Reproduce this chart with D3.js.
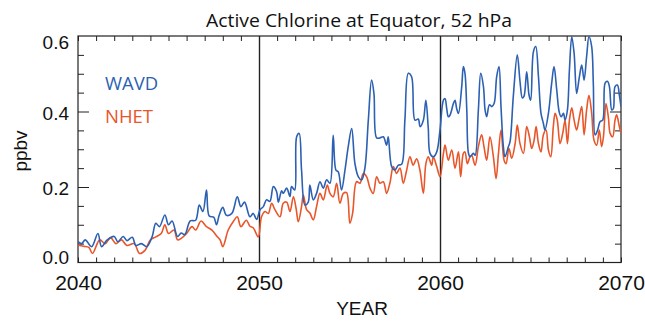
<!DOCTYPE html>
<html>
<head>
<meta charset="utf-8">
<script src="https://cdn.jsdelivr.net/npm/d3@7"></script>
<style>
  body { margin: 0; background: #fff; }
  svg { display: block; }
</style>
</head>
<body>
<div class="container"></div>
<script>
// Data: [year, ppbv]
const wavd = [
  [2040.0,0.055],[2040.2,0.05],[2040.4,0.06],[2040.75,0.042],[2041.1,0.077],[2041.3,0.042],
  [2041.6,0.059],[2042.0,0.069],[2042.2,0.055],[2042.5,0.069],[2042.7,0.058],[2043.0,0.067],
  [2043.2,0.045],[2043.5,0.05],[2043.8,0.042],[2044.1,0.069],[2044.3,0.104],[2044.5,0.095],
  [2044.8,0.126],[2045.0,0.1],[2045.2,0.11],[2045.5,0.069],[2045.7,0.078],[2045.9,0.074],
  [2046.2,0.11],[2046.5,0.112],[2046.7,0.152],[2046.9,0.135],[2047.1,0.192],[2047.25,0.123],
  [2047.5,0.12],[2047.65,0.1],[2047.8,0.125],[2048.0,0.146],[2048.2,0.125],[2048.5,0.13],
  [2048.8,0.174],[2049.0,0.148],[2049.2,0.16],[2049.5,0.121],[2049.68,0.13],[2049.87,0.114],
  [2050.05,0.139],[2050.24,0.148],[2050.42,0.166],[2050.6,0.162],[2050.79,0.201],[2050.97,0.188],
  [2051.07,0.16],[2051.25,0.19],[2051.34,0.183],[2051.53,0.197],[2051.71,0.175],[2051.8,0.201],
  [2051.97,0.192],[2052.08,0.333],[2052.22,0.342],[2052.35,0.245],[2052.54,0.152],[2052.72,0.16],
  [2052.81,0.205],[2053.0,0.166],[2053.18,0.183],[2053.37,0.214],[2053.55,0.197],[2053.74,0.219],
  [2053.92,0.21],[2054.1,0.337],[2054.25,0.245],[2054.38,0.24],[2054.56,0.192],[2054.75,0.245],
  [2054.93,0.307],[2055.12,0.355],[2055.3,0.262],[2055.49,0.227],[2055.67,0.219],[2055.85,0.25],
  [2056.04,0.377],[2056.22,0.483],[2056.35,0.448],[2056.5,0.33],[2056.68,0.33],[2056.87,0.333],
  [2057.05,0.311],[2057.14,0.333],[2057.33,0.254],[2057.51,0.245],[2057.7,0.258],[2057.88,0.26],
  [2058.06,0.377],[2058.25,0.501],[2058.43,0.492],[2058.62,0.377],[2058.8,0.38],[2058.9,0.36],
  [2059.08,0.377],[2059.22,0.43],[2059.35,0.357],[2059.45,0.289],[2059.63,0.28],[2059.82,0.293],
  [2060.0,0.351],[2060.19,0.43],[2060.28,0.434],[2060.37,0.408],[2060.46,0.386],[2060.55,0.39],
  [2060.74,0.421],[2060.83,0.43],[2060.92,0.408],[2061.02,0.395],[2061.2,0.466],[2061.29,0.519],
  [2061.38,0.501],[2061.48,0.404],[2061.57,0.29],[2061.66,0.28],[2061.84,0.289],[2061.94,0.284],
  [2062.12,0.404],[2062.25,0.501],[2062.4,0.466],[2062.49,0.404],[2062.58,0.386],[2062.73,0.418],
  [2062.86,0.413],[2062.99,0.421],[2063.13,0.492],[2063.26,0.519],[2063.37,0.413],[2063.5,0.307],
  [2063.59,0.28],[2063.78,0.307],[2063.87,0.32],[2064.05,0.44],[2064.27,0.55],[2064.42,0.48],
  [2064.55,0.436],[2064.64,0.44],[2064.79,0.505],[2064.92,0.443],[2065.01,0.43],[2065.16,0.558],
  [2065.29,0.572],[2065.44,0.492],[2065.58,0.395],[2065.71,0.369],[2065.8,0.351],[2065.99,0.395],
  [2066.17,0.475],[2066.3,0.519],[2066.45,0.457],[2066.58,0.4],[2066.69,0.386],[2066.82,0.395],
  [2066.91,0.377],[2067.04,0.404],[2067.15,0.51],[2067.28,0.598],[2067.41,0.554],[2067.55,0.448],
  [2067.7,0.492],[2067.83,0.523],[2067.96,0.483],[2068.1,0.545],[2068.23,0.598],[2068.38,0.572],
  [2068.47,0.475],[2068.57,0.338],[2068.71,0.351],[2068.84,0.373],[2068.99,0.377],[2069.12,0.475],
  [2069.25,0.48],[2069.36,0.466],[2069.49,0.404],[2069.58,0.408],[2069.67,0.466],[2069.8,0.47],
  [2069.91,0.443],[2070.0,0.413]
];

const nhet = [
  [2040.0,0.046],[2040.3,0.043],[2040.6,0.04],[2040.8,0.024],[2041.2,0.06],[2041.5,0.05],
  [2041.8,0.066],[2042.1,0.05],[2042.4,0.06],[2042.7,0.045],[2043.1,0.05],[2043.4,0.024],
  [2043.7,0.032],[2044.0,0.06],[2044.3,0.068],[2044.6,0.077],[2044.8,0.1],[2045.0,0.077],
  [2045.3,0.086],[2045.5,0.06],[2045.7,0.064],[2046.0,0.077],[2046.3,0.095],[2046.5,0.086],
  [2046.8,0.11],[2047.1,0.095],[2047.4,0.086],[2047.7,0.068],[2047.85,0.06],[2048.0,0.042],
  [2048.3,0.086],[2048.6,0.11],[2048.8,0.121],[2049.0,0.095],[2049.3,0.112],[2049.5,0.096],
  [2049.68,0.092],[2049.96,0.068],[2050.14,0.121],[2050.33,0.135],[2050.51,0.13],[2050.7,0.157],
  [2050.88,0.14],[2051.16,0.121],[2051.34,0.157],[2051.53,0.16],[2051.71,0.135],[2051.9,0.174],
  [2052.05,0.143],[2052.17,0.108],[2052.35,0.148],[2052.45,0.179],[2052.63,0.14],[2052.81,0.131],
  [2053.0,0.113],[2053.18,0.148],[2053.37,0.183],[2053.55,0.166],[2053.77,0.205],[2053.92,0.183],
  [2054.1,0.174],[2054.29,0.21],[2054.47,0.157],[2054.66,0.183],[2054.84,0.185],[2055.02,0.104],
  [2055.17,0.13],[2055.39,0.214],[2055.58,0.21],[2055.76,0.236],[2055.95,0.227],[2056.13,0.197],
  [2056.31,0.183],[2056.5,0.227],[2056.68,0.21],[2056.87,0.214],[2057.05,0.183],[2057.23,0.21],
  [2057.42,0.254],[2057.6,0.236],[2057.79,0.25],[2057.97,0.21],[2058.16,0.245],[2058.34,0.28],
  [2058.52,0.258],[2058.71,0.275],[2058.89,0.245],[2059.08,0.183],[2059.22,0.262],[2059.35,0.28],
  [2059.54,0.258],[2059.63,0.28],[2059.82,0.254],[2060.0,0.227],[2060.19,0.289],[2060.28,0.311],
  [2060.46,0.271],[2060.65,0.298],[2060.83,0.25],[2061.02,0.293],[2061.14,0.227],[2061.29,0.289],
  [2061.38,0.293],[2061.51,0.262],[2061.66,0.28],[2061.75,0.284],[2061.94,0.258],[2062.12,0.307],
  [2062.3,0.338],[2062.43,0.307],[2062.58,0.271],[2062.76,0.333],[2062.95,0.28],[2063.1,0.222],
  [2063.23,0.289],[2063.37,0.351],[2063.54,0.271],[2063.65,0.262],[2063.81,0.302],[2063.96,0.276],
  [2064.15,0.315],[2064.27,0.364],[2064.42,0.315],[2064.61,0.289],[2064.79,0.36],[2064.94,0.333],
  [2065.07,0.302],[2065.2,0.324],[2065.31,0.36],[2065.44,0.315],[2065.58,0.293],[2065.71,0.338],
  [2065.86,0.351],[2065.99,0.298],[2066.12,0.28],[2066.26,0.36],[2066.36,0.395],[2066.48,0.377],
  [2066.63,0.315],[2066.78,0.342],[2066.91,0.377],[2067.04,0.315],[2067.15,0.377],[2067.28,0.41],
  [2067.41,0.377],[2067.55,0.351],[2067.68,0.38],[2067.83,0.413],[2067.96,0.338],[2068.1,0.404],
  [2068.23,0.443],[2068.38,0.395],[2068.51,0.324],[2068.66,0.311],[2068.8,0.351],[2068.93,0.307],
  [2069.03,0.333],[2069.17,0.421],[2069.3,0.386],[2069.4,0.342],[2069.54,0.333],[2069.67,0.377],
  [2069.76,0.391],[2069.91,0.36],[2070.0,0.342]
];

const yearLabels = [2040, 2050, 2060, 2070];
const yearLines = [2050, 2060];
const valueLabels = [0.0, 0.2, 0.4, 0.6];
const seriesNames = ["WAVD", "NHET"];

const width = 645;
const height = 322;
const marginTop = 36;
const marginRight = 24;
const marginBottom = 59.5;
const marginLeft = 78;
const blue = "#2c60b2";
const orange = "#e8562a";
const ink = "#222";

const x = d3.scaleLinear()
  .domain([2040, 2070])
  .range([marginLeft, width - marginRight]);

const y = d3.scaleLinear()
  .domain([0, 0.6])
  .range([height - marginBottom, marginTop]);

const plotH = height - marginBottom - marginTop;
const plotW = width - marginLeft - marginRight;

const svg = d3.select(".container")
  .append("svg")
  .attr("width", width)
  .attr("height", height);

svg.append("defs").append("clipPath").attr("id", "plot")
  .append("rect")
  .attr("x", marginLeft).attr("y", marginTop)
  .attr("width", plotW).attr("height", plotH);

// minor ticks, every year on top and bottom (inward)
const years = d3.range(2040, 2071);
svg.append("g")
  .attr("transform", `translate(0,${height - marginBottom})`)
  .call(d3.axisBottom(x).tickValues(years).tickSize(-5).tickFormat(""))
  .call(g => g.select(".domain").remove());
svg.append("g")
  .attr("transform", `translate(0,${marginTop})`)
  .call(d3.axisTop(x).tickValues(years).tickSize(-5).tickFormat(""))
  .call(g => g.select(".domain").remove());

// full-height year lines
svg.append("g")
  .attr("transform", `translate(0,${height - marginBottom})`)
  .call(d3.axisBottom(x).tickValues(yearLines).tickSize(-plotH).tickFormat(""))
  .call(g => g.select(".domain").remove())
  .selectAll("line").attr("stroke-width", 1.4);

// y ticks: minor every 0.05, major every 0.2, both sides
const minorVals = d3.range(1, 12).map(i => +(i * 0.05).toFixed(2)).filter(v => Math.abs(v * 5 - Math.round(v * 5)) > 1e-6);
const majorVals = [0.2, 0.4];
[[d3.axisLeft, marginLeft], [d3.axisRight, width - marginRight]].forEach(([ax, pos]) => {
  svg.append("g")
    .attr("transform", `translate(${pos},0)`)
    .call(ax(y).tickValues(minorVals).tickSize(-6).tickFormat(""))
    .call(g => g.select(".domain").remove());
  svg.append("g")
    .attr("transform", `translate(${pos},0)`)
    .call(ax(y).tickValues(majorVals).tickSize(-11).tickFormat(""))
    .call(g => g.select(".domain").remove());
});

// frame
svg.append("rect")
  .attr("x", marginLeft).attr("y", marginTop)
  .attr("width", plotW).attr("height", plotH)
  .attr("fill", "none").attr("stroke", ink).attr("stroke-width", 1.2);

svg.selectAll(".tick line").attr("stroke", ink);

// tick labels
svg.append("g")
  .attr("transform", `translate(0,${height - marginBottom})`)
  .call(d3.axisBottom(x).tickValues(yearLabels).tickSize(0).tickPadding(13).tickFormat(d3.format("d")))
  .call(g => g.select(".domain").remove())
  .selectAll("text")
  .attr("font-family", "Liberation Sans, Arial, sans-serif")
  .attr("font-size", 21)
  .attr("fill", "#111");

svg.append("g")
  .attr("transform", `translate(${marginLeft},0)`)
  .call(d3.axisLeft(y).tickValues(valueLabels).tickSize(0).tickPadding(9).tickFormat(d3.format(".1f")))
  .call(g => g.select(".domain").remove())
  .selectAll("text")
  .attr("font-family", "Liberation Sans, Arial, sans-serif")
  .attr("font-size", 19)
  .attr("fill", "#111")
  .attr("y", d => d === 0.6 ? 6.5 : d === 0 ? -5 : 1.5);

// lines
const line = d3.line()
  .x(d => x(d[0]))
  .y(d => y(d[1]))
  .curve(d3.curveCatmullRom.alpha(0.5));

const plot = svg.append("g").attr("clip-path", "url(#plot)");
plot.append("path")
  .datum(nhet)
  .attr("fill", "none")
  .attr("stroke", orange)
  .attr("stroke-width", 1.6)
  .attr("stroke-linejoin", "round")
  .attr("d", line);
plot.append("path")
  .datum(wavd)
  .attr("fill", "none")
  .attr("stroke", blue)
  .attr("stroke-width", 1.6)
  .attr("stroke-linejoin", "round")
  .attr("d", line);

// title and axis titles
svg.append("text")
  .attr("x", 359).attr("y", 27)
  .attr("text-anchor", "middle")
  .attr("font-family", "Open Sans, sans-serif")
  .attr("font-size", 19)
  .attr("textLength", 306)
  .attr("lengthAdjust", "spacingAndGlyphs")
  .attr("fill", "#111")
  .text("Active Chlorine at Equator, 52 hPa");

svg.append("text")
  .attr("x", 362).attr("y", 315)
  .attr("text-anchor", "middle")
  .attr("font-family", "Liberation Sans, Arial, sans-serif")
  .attr("font-size", 19)
  .attr("fill", "#111")
  .text("YEAR");

svg.append("text")
  .attr("transform", "translate(27,151) rotate(-90)")
  .attr("text-anchor", "middle")
  .attr("font-family", "Liberation Sans, Arial, sans-serif")
  .attr("font-size", 19)
  .attr("fill", "#111")
  .text("ppbv");

// legend
const legendColors = [blue, orange];
svg.append("g")
  .selectAll("text")
  .data(seriesNames)
  .join("text")
  .attr("x", 105)
  .attr("y", (d, i) => 90 + i * 33.3)
  .attr("font-family", "Open Sans, sans-serif")
  .attr("font-size", 19)
  .attr("textLength", (d, i) => i === 0 ? 53 : 48)
  .attr("lengthAdjust", "spacingAndGlyphs")
  .attr("fill", (d, i) => legendColors[i])
  .text(d => d);
</script>
</body>
</html>
